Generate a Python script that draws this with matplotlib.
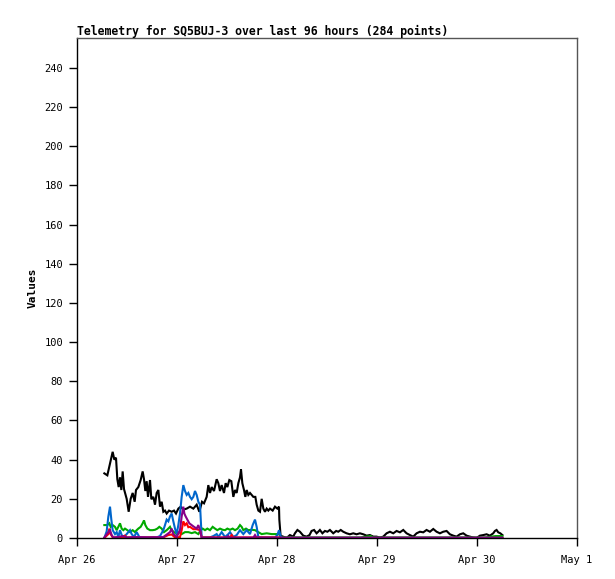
import numpy as np
import pandas as pd
import matplotlib
matplotlib.use('Agg')
import matplotlib.pyplot as plt
import matplotlib.dates as mdates
from matplotlib.ticker import FuncFormatter, MultipleLocator

#hours after Apr 26 00:00
black_h = [6.56, 7.28, 7.92, 8.56, 8.96, 9.36, 9.68, 10.0, 10.32, 10.64, 10.96, 11.28, 11.92, 12.4,
           12.88, 13.36, 13.84, 14.16, 14.72, 15.28, 15.76, 16.08, 16.4, 16.72, 17.04, 17.52, 17.84,
           18.32, 18.72, 19.12, 19.52, 19.92, 20.32, 20.72, 21.12, 21.52, 22.08, 22.72, 23.28, 23.76,
           24.32, 24.88, 25.52, 26.32, 27.12, 27.92, 28.72, 29.36, 30.0, 30.48, 31.12, 31.52, 31.92,
           32.32, 32.88, 33.52, 33.92, 34.32, 34.72, 35.28, 35.68, 36.08, 36.56, 37.04, 37.52, 37.92,
           38.32, 38.72, 39.12, 39.36, 39.68, 40.08, 40.4, 40.72, 41.12, 41.52, 41.92, 42.32, 42.8,
           43.12, 43.52, 43.92, 44.32, 44.72, 45.12, 45.52, 45.92, 46.32, 46.96, 47.52, 48.08, 48.48,
           48.56, 48.88,
           49.2, 50.3, 51.1, 51.9, 52.3, 52.9, 53.5, 54.3, 55.1, 55.8, 56.3, 56.9, 57.5, 57.9, 58.3,
           58.9, 59.5, 60.1, 60.7, 61.5, 62.2, 62.7, 63.3, 63.9, 64.7, 65.5, 66.3, 67.1, 67.9, 68.7,
           69.5, 70.3, 71.1, 71.9, 72.7, 73.5, 74.3, 75.1, 75.9, 76.7, 77.5, 78.3, 79.1, 79.9, 80.7,
           81.5, 82.3, 83.1, 83.9, 84.7, 85.5, 86.3, 87.1, 87.9, 88.7, 89.5, 90.3, 91.1, 91.9, 92.7,
           93.5, 94.3, 95.1, 95.9, 96.7, 97.5, 98.3, 99.1, 99.9, 100.3, 100.7, 101.1, 101.6, 102.1]
black_v = [33, 32, 38, 44, 40, 41, 30, 26, 31, 24.5, 34, 25, 20, 13.4,
           20, 23, 18.5, 24.5, 26, 29.6, 34, 30, 24, 29, 21, 29.6, 19.8,
           21, 17, 23, 24.5, 16, 18.5, 13.4, 14, 12.5, 14, 13.4, 14, 12.5,
           15, 16, 14.5, 15, 16, 15, 17, 13.4, 18.5, 17.7, 21, 27, 23,
           26, 24, 30, 28, 24, 27, 23, 28, 26, 29.6, 29, 21, 24.5,
           23, 28, 31, 35, 28, 24.5, 21, 24.5, 22, 23, 22, 21, 21,
           17, 14, 13.4, 20, 15, 13.4, 15, 14, 15, 14, 16, 15, 16,
           9.4, 0.7,
           0.9, 0.0, 1.5, 0.7, 2.4, 4.1, 3.2, 1.2, 0.7, 1.5, 3.6, 4.1, 2.4, 3.2, 4.1,
           2.4, 3.6, 3.2, 4.1, 2.4, 3.6, 3.2, 4.1, 3.2, 2.4, 1.9, 2.4, 1.9, 2.4, 1.9,
           1.2, 1.5, 0.7, 0.7, 0.2, 0.7, 2.4, 3.2, 2.4, 3.6, 2.9, 4.1, 2.4, 1.5, 0.7,
           2.4, 3.2, 2.9, 4.1, 3.2, 4.6, 3.2, 2.4, 3.2, 3.6, 1.9, 1.2, 0.7, 1.9, 2.4,
           1.2, 0.7, 0.2, 0.0, 1.2, 1.5, 1.9, 1.2, 2.4, 3.6, 4.1, 2.9, 2.4, 1.5]

green_h = [6.56, 7.28, 7.76, 8.08, 8.56, 9.12, 9.52, 9.92, 10.32, 10.72, 11.12, 11.52, 12.08, 12.72,
           13.36, 13.92, 14.32, 14.72, 15.28, 15.76, 16.08, 16.4, 16.88, 17.52, 18.16, 18.72, 19.28,
           19.76, 20.32, 20.88, 21.52, 21.92, 22.32, 22.72, 23.28, 23.92, 24.56, 25.12, 25.92, 26.72,
           27.52, 28.32, 29.12, 29.68, 30.16, 30.72, 31.28, 31.92, 32.56, 33.12, 33.68, 34.32, 34.96,
           35.52, 36.08, 36.72, 37.36, 37.92, 38.56, 39.12, 39.52, 39.92, 40.56, 41.12, 41.92, 42.72,
           43.52, 44.32, 45.52, 46.72, 47.92, 48.48,
           49.0, 52.0, 56.0, 60.0, 64.0, 68.0, 70.5, 71.0, 74.0, 78.0, 82.0, 86.0, 90.0, 94.0,
           98.0, 100.5, 101.0, 102.1]
green_v = [6.6, 6.6, 7.5, 5.7, 6.6, 5.7, 4, 5.7, 7.5, 4.8, 4, 4.8, 4, 3,
           4, 3, 4, 4.8, 5.7, 7.5, 9, 6.6, 4.8, 4, 4, 4.2, 4.8,
           5.7, 4.8, 3, 4, 4.8, 5.7, 4, 3, 2, 3, 2, 3, 3,
           2.5, 3, 2, 4, 4.8, 4, 4.8, 4, 5.7, 4.8, 4, 4.8, 4.2,
           4, 4.8, 4.2, 4.8, 4, 4.8, 6.6, 5.7, 4, 4.8, 4, 4.2, 4,
           3, 2, 2.4, 2, 2, 2,
           0.3, 0.3, 0.3, 0.3, 0.3, 0.3, 1.0, 0.3, 0.3, 0.3, 0.3, 0.3, 0.3, 0.3,
           0.3, 1.0, 1.0, 1.0]

blue_h = [6.56, 7.12, 7.52, 7.92, 8.24, 8.56, 9.12, 9.52, 9.92, 10.32, 10.72, 11.28, 11.92, 12.72,
          13.12, 13.68, 14.32, 14.96, 15.52, 16.72, 18.32, 19.12, 19.92, 20.72, 21.12, 21.52, 21.92,
          22.32, 22.72, 23.12, 23.52, 23.92, 24.32, 24.72, 25.12, 25.52, 25.92, 26.32, 26.72, 27.12,
          27.52, 27.92, 28.32, 28.72, 29.12, 29.52, 29.92, 30.32, 31.92, 32.72, 33.52, 33.92, 34.72,
          35.52, 36.32, 36.72, 37.52, 38.32, 39.12, 39.92, 40.72, 41.52, 42.16, 42.72, 43.12, 43.52,
          44.32, 47.52, 48.08, 48.48, 49.0, 102.1]
blue_v = [0, 3.4, 10.9, 16, 9.4, 4, 2, 3, 0.5, 4, 1.5, 0.5, 2, 4,
          2, 0.5, 3, 0.5, 0.3, 0.3, 0.5, 0.3, 1, 4, 6.6, 9.4, 8.5,
          11, 12.5, 8.5, 4.8, 2, 6.6, 12.5, 21, 27, 24, 22, 23, 21,
          19.8, 21, 24, 22, 18.5, 17, 0.5, 0.3, 0.3, 1, 2, 0.5, 3,
          0.5, 2, 3, 0.5, 1.5, 4, 2, 4, 2, 6.6, 9.4, 5.7, 0.5,
          0.3, 0.3, 1.5, 4, 0, 0]

red_h = [6.56, 7.52, 7.76, 8.08, 8.56, 11.12, 11.52, 11.92, 20.72, 21.92, 22.72, 23.52, 24.72,
         25.12, 25.52, 25.92, 26.32, 26.72, 27.12, 27.92, 28.72, 29.52, 29.92, 30.32, 36.72, 37.12,
         37.52, 48.48, 49.0, 102.1]
red_v = [0, 2, 4.8, 2, 0.3, 0.3, 1.2, 0.3, 0.3, 1.5, 1.8, 0.3, 0.5,
         4, 8.5, 6.6, 7.5, 5.5, 5.7, 4.5, 4.5, 4, 0.3, 0.3, 0.3, 1.5,
         0.3, 0.3, 0, 0]

purple_h = [6.56, 7.52, 7.92, 8.32, 8.72, 9.12, 11.12, 11.92, 14.32, 17.52, 20.72, 22.32, 22.72,
            23.12, 23.92, 24.72, 25.12, 25.52, 25.76, 26.08, 26.48, 26.96, 27.52, 28.08, 28.72, 29.12,
            29.52, 29.92, 30.32, 35.92, 36.32, 36.72, 42.32, 42.72, 43.12, 48.48, 102.1]
purple_v = [0.3, 3, 4, 1.5, 0.3, 0.3, 1, 0.3, 0.5, 0.3, 0.5, 3, 4.8,
            2, 0.5, 4, 11, 16, 12.5, 11, 9.4, 7.5, 6.6, 5.7, 4.8, 6.6,
            4, 0.3, 0.2, 0.2, 1, 0.2, 0.2, 1.5, 0.2, 0.2, 0.2]

start = pd.Timestamp('2024-04-26')
def to_dates(hours):
    return start + pd.to_timedelta(hours, unit='h')

mono = 'DejaVu Sans Mono'
fig = plt.figure(figsize=(6.15, 5.79), dpi=100)
ax = fig.add_axes([77/615, 41/579, 500/615, 500/579])

for h, v, c in [(black_h, black_v, '#000000'), (green_h, green_v, '#00aa00'),
                (blue_h, blue_v, '#0066cc'), (red_h, red_v, '#ff0000'),
                (purple_h, purple_v, '#880088')]:
    ax.plot(to_dates(h), v, color=c, linewidth=1.5, solid_joinstyle='miter')

ax.set_xlim(start, start + pd.Timedelta(days=5))
ax.set_ylim(0, 255.3)
ax.yaxis.set_major_locator(MultipleLocator(20))
ax.xaxis.set_major_locator(mdates.DayLocator())
ax.xaxis.set_major_formatter(FuncFormatter(
    lambda x, pos: '%s %d' % (mdates.num2date(x).strftime('%b'), mdates.num2date(x).day)))

ax.tick_params(direction='out', length=6, width=1, labelsize=7.5, pad=4)
for lab in ax.get_xticklabels() + ax.get_yticklabels():
    lab.set_family(mono)
ax.tick_params(axis='x', pad=6)

ax.spines['left'].set_color('black')
ax.spines['bottom'].set_color('black')
ax.spines['top'].set_color('#555555')
ax.spines['right'].set_color('#555555')
for s in ax.spines.values():
    s.set_linewidth(1)

ax.set_ylabel('Values', family=mono, fontweight='bold', fontsize=8, labelpad=5)
ax.set_title('Telemetry for SQ5BUJ-3 over last 96 hours (284 points)', family=mono,
             fontweight='bold', fontsize=8.3, loc='left', pad=2)

plt.savefig('out.png', dpi=100)
